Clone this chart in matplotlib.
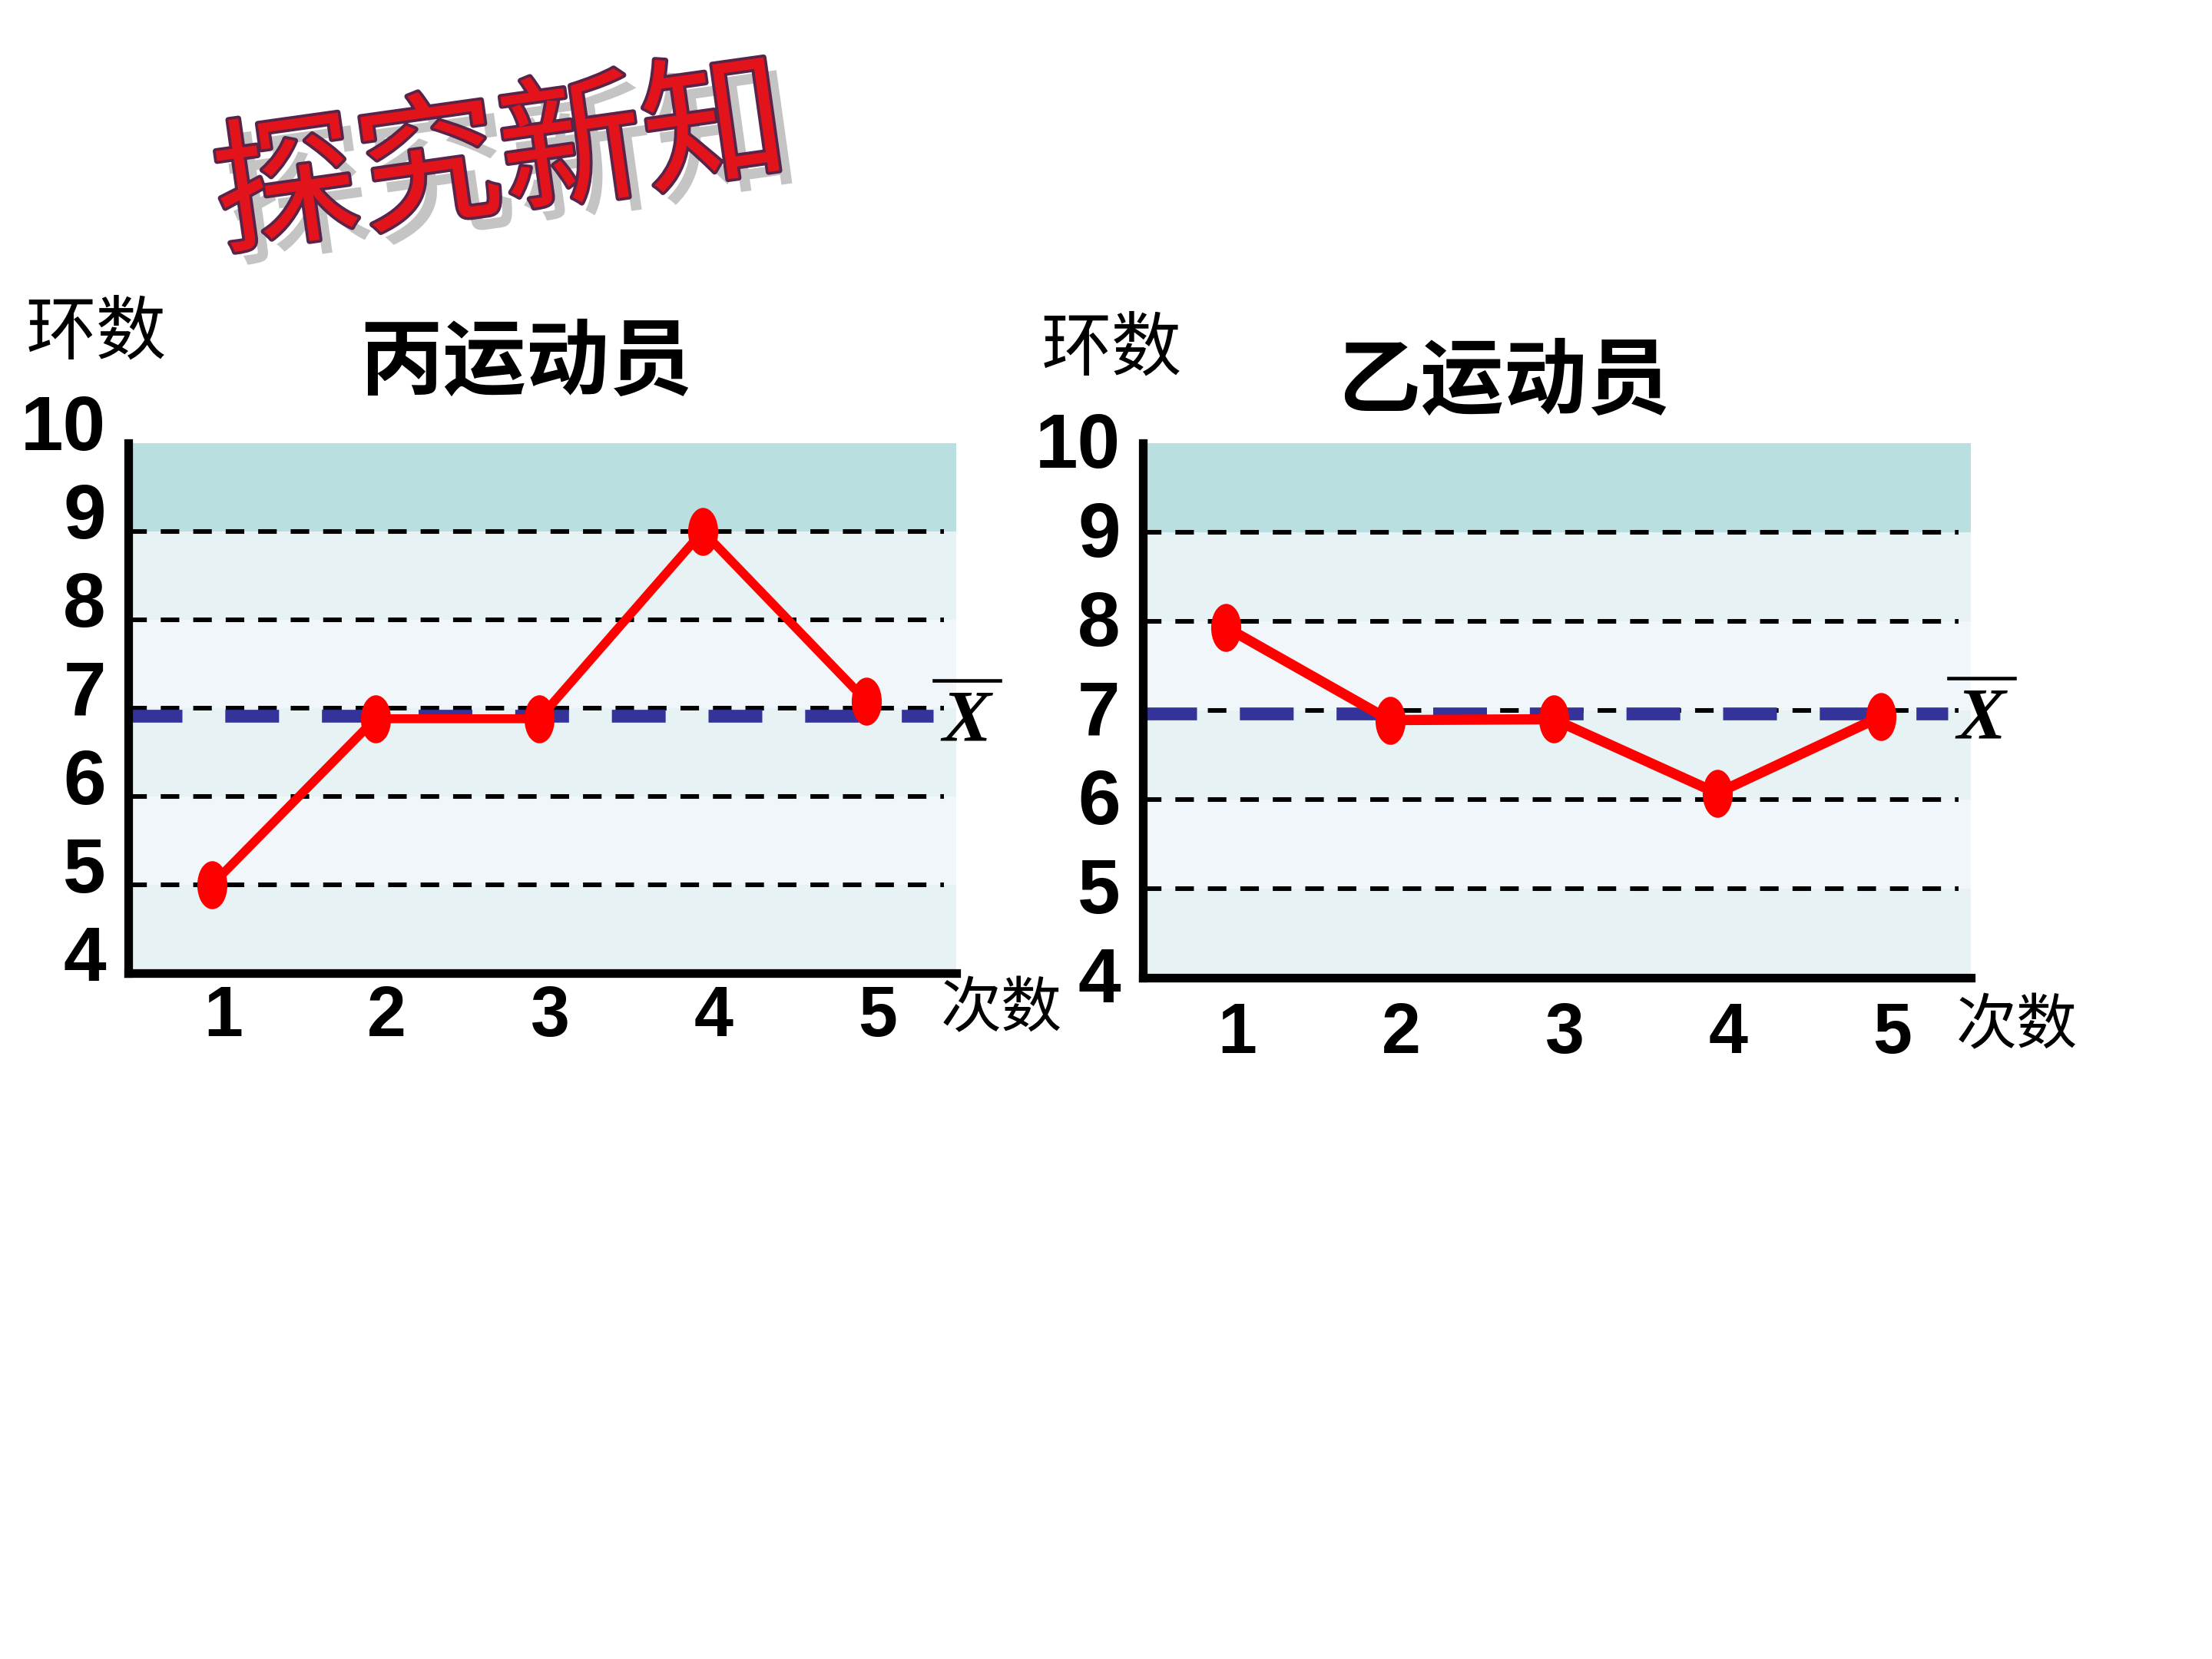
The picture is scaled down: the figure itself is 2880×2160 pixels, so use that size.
import matplotlib
matplotlib.use("Agg")
import matplotlib.pyplot as plt
import matplotlib.patheffects as pe
from matplotlib.path import Path
from matplotlib.transforms import Affine2D, ScaledTranslation, blended_transform_factory

CJK = ["Noto Sans CJK SC", "DejaVu Sans"]
NUM = ["Liberation Sans Narrow", "Liberation Sans", "DejaVu Sans"]

# ── data ─────────────────────────────────────────────────────────────────────
shots = [1, 2, 3, 4, 5]
shot_labels = ["1", "2", "3", "4", "5"]
ring_ticks = [4, 5, 6, 7, 8, 9, 10]
grid_rings = [5, 6, 7, 8, 9]

bing_rings = [5.0, 6.88, 6.88, 9.0, 7.08]
yi_rings = [7.93, 6.89, 6.90, 6.07, 6.93]
bing_mean = 6.91
yi_mean = 6.96

band_edges = [4, 5, 6, 7, 8, 9, 10]
band_colors = ["#E6F2F4", "#F0F6F9", "#E6F2F4", "#F0F6F9", "#E6F2F4", "#B9DFE1"]

# tall ellipse marker like the slide's dots
ellipse = Path.unit_circle().transformed(Affine2D().scale(0.6, 1.0))


def draw_panel(ax, rings, mean, ylab_up, xlab_pad, line_w):
    for lo, hi, c in zip(band_edges[:-1], band_edges[1:], band_colors):
        ax.axhspan(lo, hi, color=c, lw=0, zorder=0)
    for y in grid_rings:
        ax.axhline(y, xmin=0, xmax=0.985, color="black", lw=1.45,
                   dashes=(4, 3), zorder=1)
    ax.axhline(mean, xmin=0, xmax=0.972, color="#333399", lw=4,
               dashes=(4.2, 3.35), zorder=2)
    ax.plot(shots, rings, color="#FF0000", lw=line_w, marker=ellipse,
            ms=14, zorder=3, clip_on=False)

    ax.set_xlim(0.49, 5.55)
    ax.set_ylim(4, 10)
    for s in ["top", "right"]:
        ax.spines[s].set_visible(False)
    for s in ["left", "bottom"]:
        ax.spines[s].set_linewidth(2.7)
        ax.spines[s].set_zorder(4)

    ax.set_xticks(shots)
    ax.set_xticklabels(shot_labels)
    ax.set_yticks(ring_ticks)
    ax.set_yticklabels([str(t) for t in ring_ticks])
    ax.tick_params(axis="both", length=0)
    ax.tick_params(axis="y", pad=7, labelsize=24)
    ax.tick_params(axis="x", pad=xlab_pad, labelsize=22)
    fig = ax.figure
    for lbl in ax.get_yticklabels():
        lbl.set_fontfamily(NUM)
        lbl.set_fontweight("bold")
        lbl.set_transform(lbl.get_transform()
                          + ScaledTranslation(0, ylab_up / 72, fig.dpi_scale_trans))
    for lbl in ax.get_xticklabels():
        lbl.set_fontfamily(NUM)
        lbl.set_fontweight("bold")
        lbl.set_transform(lbl.get_transform()
                          + ScaledTranslation(3.5 / 72, 0, fig.dpi_scale_trans))

    # x-bar symbol next to the mean line
    tr = blended_transform_factory(ax.transAxes, ax.transData)
    ax.text(1.012, mean - 0.08, "X", transform=tr, ha="center", va="center",
            fontsize=23, fontfamily="Liberation Serif", style="italic",
            fontweight="bold", clip_on=False)
    ax.plot([0.973, 1.053], [mean + 0.4, mean + 0.4], transform=tr,
            color="black", lw=1.1, clip_on=False)


fig = plt.figure(figsize=(9.6, 7.2), dpi=300)
fig.patch.set_facecolor("white")

ax_bing = fig.add_axes([0.058, 0.4133, 0.3744, 0.3197])
ax_yi = fig.add_axes([0.5166, 0.4107, 0.3744, 0.3223])

draw_panel(ax_bing, bing_rings, bing_mean, ylab_up=6.5, xlab_pad=3.5, line_w=2.8)
draw_panel(ax_yi, yi_rings, yi_mean, ylab_up=1.0, xlab_pad=7.5, line_w=3.2)

# panel titles and axis names
fig.text(0.2378, 0.7806, "丙运动员", ha="center", va="center", fontsize=26,
         fontweight="bold", family=CJK)
fig.text(0.6799, 0.7694, "乙运动员", ha="center", va="center", fontsize=26,
         fontweight="bold", family=CJK)
fig.text(0.0434, 0.7986, "环数", ha="center", va="center", fontsize=22, family=CJK)
fig.text(0.5024, 0.7889, "环数", ha="center", va="center", fontsize=22, family=CJK)
fig.text(0.4528, 0.3912, "次数", ha="center", va="center", fontsize=19, family=CJK)
fig.text(0.9118, 0.3810, "次数", ha="center", va="center", fontsize=19, family=CJK)

# slide heading
fig.text(0.2264, 0.9023, "探究新知", rotation=8, ha="center", va="center",
         fontsize=45, fontweight="medium", color="#E3131B", family=CJK,
         path_effects=[
             pe.SimplePatchShadow(offset=(4, -4), shadow_rgbFace="#8A8A8A", alpha=0.5),
             pe.Stroke(linewidth=1.8, foreground="#5A2448"),
             pe.Normal(),
         ])

fig.savefig("out.png", dpi=300, facecolor="white")
